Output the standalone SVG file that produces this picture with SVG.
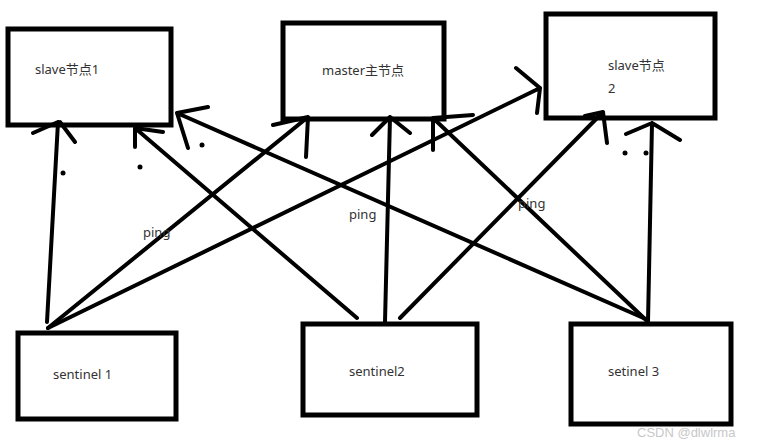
<svg xmlns="http://www.w3.org/2000/svg" width="757" height="444" viewBox="0 0 757 444">
<style>
.box{fill:#fff;stroke:#000;stroke-width:5}
.lbl{font-family:"Noto Sans","Noto Sans CJK SC",sans-serif;font-size:13px;fill:#333}
.ln{fill:none;stroke:#000;stroke-width:4;stroke-linecap:round;stroke-linejoin:round}
.dot{fill:#000}
.wm{font-family:"Liberation Sans",Arial,sans-serif;font-size:13px;fill:#c8c8c8}
</style>
<rect width="757" height="444" fill="#fff"/>
<g id="slave1"><rect class="box" x="8" y="29" width="163" height="96"/><text class="lbl" x="35" y="74">slave节点1</text></g>
<g id="master"><rect class="box" x="283" y="23" width="161" height="96"/><text class="lbl" x="322" y="75">master主节点</text></g>
<g id="slave2"><rect class="box" x="546" y="14" width="169" height="104"/><text class="lbl" x="608" y="70">slave节点</text><text class="lbl" x="608" y="93">2</text></g>
<g id="sentinel1"><rect class="box" x="18" y="333" width="158" height="86"/><text class="lbl" x="53" y="379">sentinel 1</text></g>
<g id="sentinel2"><rect class="box" x="303" y="324" width="174" height="91"/><text class="lbl" x="349" y="376">sentinel2</text></g>
<g id="sentinel3"><rect class="box" x="571" y="324" width="160" height="100"/><text class="lbl" x="608" y="376">setinel 3</text></g>
<g id="connectors">
<path class="ln" d="M47,322 L58,122 M58,122 L33,133 M60,122 L75,142"/>
<path class="ln" d="M48,328 L308,117 M308,117 L273,125 M308,117 L306,157"/>
<path class="ln" d="M48,328 L540,88 M540,88 L516,68 M540,88 L537,113"/>
<path class="ln" d="M357,318 L135,128 M135,128 L135,147 M135,128 L163,132"/>
<path class="ln" d="M385,322 L390,117 M390,117 L372,135 M390,117 L410,133"/>
<path class="ln" d="M400,318 L603,112 M603,112 L607,143 M603,112 L585,116"/>
<path class="ln" d="M648,320 L177,113 M177,113 L208,107 M177,113 L188,148"/>
<path class="ln" d="M646,320 L433,118 M433,118 L433,150 M433,118 L473,115"/>
<path class="ln" d="M648,322 L652,123 M652,123 L626,134 M652,123 L680,140"/>
<circle class="dot" cx="63" cy="173" r="2.5"/>
<circle class="dot" cx="140" cy="167" r="2.5"/>
<circle class="dot" cx="202" cy="145" r="2.5"/>
<circle class="dot" cx="625" cy="153" r="2.5"/>
<circle class="dot" cx="646" cy="153" r="2.5"/>
</g>
<text class="lbl" x="143" y="237">ping</text>
<text class="lbl" x="349" y="219">ping</text>
<text class="lbl" x="518" y="208">ping</text>
<text class="wm" x="637" y="437">CSDN @dlwlrma</text>
</svg>
